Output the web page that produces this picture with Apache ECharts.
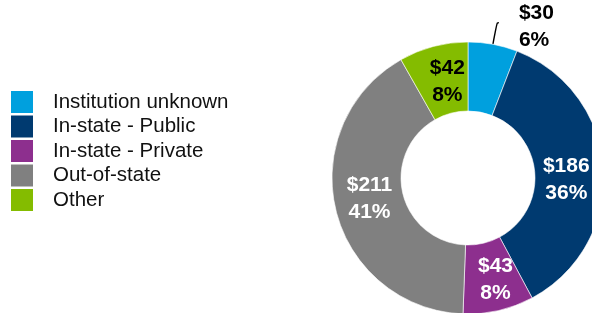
<!DOCTYPE html>
<html>
<head>
<meta charset="utf-8">
<script src="https://cdn.jsdelivr.net/npm/echarts@6/dist/echarts.min.js"></script>
<style>
    html, body { margin: 0; padding: 0; background: #fff; }
    #chart { width: 592px; height: 313px; }
</style>
</head>
<body>
<div id="chart"></div>
<script>
var categories = ['Institution unknown', 'In-state - Public', 'In-state - Private', 'Out-of-state', 'Other'];
var amounts = [30, 186, 43, 211, 42];
var colors = ['#00a0de', '#003a70', '#8d2f8e', '#808080', '#84bc00'];
var labelColors = ['#000', '#fff', '#fff', '#fff', '#000'];

(function () {
    var total = amounts.reduce(function (a, b) { return a + b; }, 0);
    var myChart = echarts.init(document.getElementById('chart'));

    var data = categories.map(function (name, i) {
        var item = {
            name: name,
            value: amounts[i],
            itemStyle: { color: colors[i] },
            label: { color: labelColors[i] }
        };
        // small slice gets its label outside, with a leader line
        if (i === 0) {
            item.label = {
                position: 'outside',
                color: '#000',
                align: 'left',
                padding: [0, 0, 0, 15]
            };
            item.labelLine = {
                show: true,
                length: 22,
                length2: 2,
                smooth: 0.5,
                lineStyle: { color: '#000', width: 1.4 }
            };
        }
        return item;
    });

    // nudge the labels a little, like in the original slide
    var nudge = {
        0: { dy: 4 },
        1: { dx: -6, dy: 8 },
        2: { dx: 4, dy: 0 },
        3: { dx: 3, dy: -4 },
        4: { dx: 6, dy: 5 }
    };

    var option = {
        animation: false,
        legend: {
            orient: 'vertical',
            left: 6,
            top: 86,
            itemWidth: 22,
            itemHeight: 22,
            itemGap: 2.5,
            icon: 'rect',
            data: categories,
            itemStyle: { borderWidth: 0 },
            textStyle: {
                fontFamily: 'Liberation Sans, Arial, sans-serif',
                fontSize: 20.5,
                lineHeight: 22,
                color: '#111',
                padding: [0, 0, 0, 15]
            }
        },
        series: [
            {
                name: 'Funding',
                type: 'pie',
                center: [468, 178],
                radius: [67, 136],
                startAngle: 90,
                clockwise: true,
                avoidLabelOverlap: false,
                itemStyle: {
                    borderColor: '#fff',
                    borderWidth: 0.6
                },
                label: {
                    show: true,
                    position: 'inside',
                    fontFamily: 'Liberation Sans, Arial, sans-serif',
                    fontWeight: 'bold',
                    fontSize: 21,
                    lineHeight: 27,
                    formatter: function (p) {
                        return '$' + p.value + '\n' + Math.round(p.value / total * 100) + '%';
                    }
                },
                labelLayout: function (params) {
                    return nudge[params.dataIndex] || {};
                },
                labelLine: { show: false },
                data: data
            }
        ]
    };
    myChart.setOption(option);
})();
</script>
</body>
</html>
